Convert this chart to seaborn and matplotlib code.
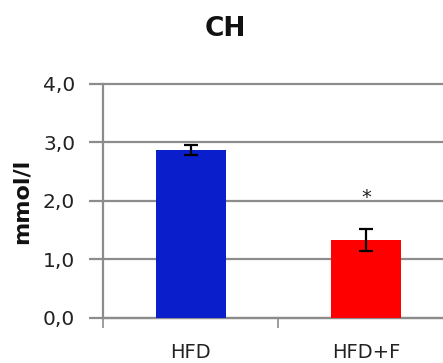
import matplotlib
matplotlib.use("Agg")
import matplotlib.pyplot as plt
import seaborn as sns
import pandas as pd

groups = ["HFD", "HFD+F"]
means = [2.87, 1.33]
errors = [0.09, 0.19]
bar_colors = ["#0A1ECC", "#FF0000"]
y_ticks = [0.0, 1.0, 2.0, 3.0, 4.0]
y_tick_labels = ["0,0", "1,0", "2,0", "3,0", "4,0"]
significance = ["", "*"]

sns.set_theme(style="white")
plt.rcParams["font.family"] = ["DejaVu Sans"]

df = pd.DataFrame({"group": groups, "value": means})

fig = plt.figure(figsize=(4.43, 3.63), dpi=100)
ax = fig.add_axes([0.2325, 0.124, 0.792, 0.645])

sns.barplot(data=df, x="group", y="value", hue="group", palette=bar_colors,
            width=0.4, legend=False, ax=ax, saturation=1, linewidth=0,
            zorder=3)
ax.errorbar(range(len(groups)), means, yerr=errors, fmt="none", ecolor="black",
            elinewidth=1.6, capsize=5, capthick=1.6, zorder=4)

for i, (m, e, s) in enumerate(zip(means, errors, significance)):
    if s:
        ax.text(i, m + e + 0.54, s, ha="center", va="center", fontsize=14,
                color="#222222")

ax.set_xlim(-0.5, 1.5)
ax.set_ylim(0, 4)
ax.set_yticks(y_ticks)
ax.set_yticklabels(y_tick_labels)
ax.yaxis.grid(True, color="#8c8c8c", linewidth=1.6, zorder=0)
ax.set_axisbelow(True)
for gl in ax.get_ygridlines():
    gl.set_clip_on(False)

# category boundary ticks on the x axis
ax.set_xticks([-0.5, 0.5, 1.5], minor=True)
ax.tick_params(axis="x", which="minor", length=7, width=1.2, color="#8c8c8c",
               direction="out", bottom=True)
ax.tick_params(axis="x", which="major", length=0, labelsize=14,
               labelcolor="#222222", pad=18)
ax.tick_params(axis="y", length=10, width=1.6, color="#8c8c8c", direction="out",
               left=True, labelsize=14.5, labelcolor="#222222", pad=10)

for side in ["top", "right"]:
    ax.spines[side].set_visible(False)
ax.spines["left"].set_color("#8c8c8c")
ax.spines["left"].set_linewidth(1.6)
ax.spines["bottom"].set_color("#8c8c8c")
ax.spines["bottom"].set_linewidth(1.6)

ax.set_xlabel("")
ax.set_ylabel("mmol/l", fontsize=16, fontweight="bold", color="#111111",
              labelpad=8)
fig.text(0.508, 0.92, "CH", ha="center", va="center", fontsize=19,
         fontweight="bold", color="#111111")

fig.savefig("out.png", dpi=100)
